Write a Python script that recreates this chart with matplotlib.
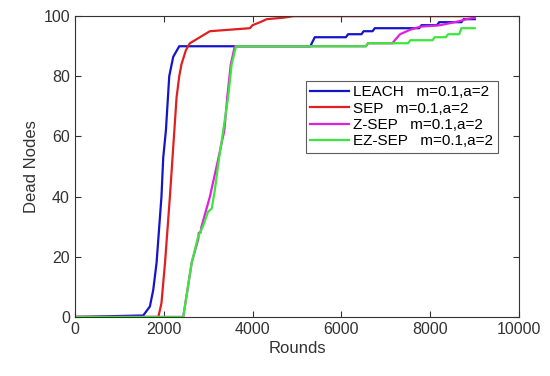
import numpy as np
import matplotlib.pyplot as plt

plt.rcParams['font.family'] = ['Liberation Sans', 'DejaVu Sans']

# LEACH m=0.1,a=2
leach_x = [0, 1540, 1690, 1765, 1840, 1950, 1990, 2050, 2125, 2180, 2215, 2350, 5300, 5400,
           6100, 6150, 6450, 6500, 6700, 6750, 7750, 7800, 8150, 8200, 8700, 8750, 9000]
leach_y = [0, 0.5, 3.5, 9, 18, 40, 53, 62, 80, 84, 86.5, 90, 90, 93,
           93, 94, 94, 95, 95, 96, 96, 97, 97, 98, 98, 99, 99]

# SEP m=0.1,a=2
sep_x = [0, 1880, 1950, 2030, 2140, 2240, 2290, 2350, 2400, 2500, 2590, 2815, 3040, 3940,
         4000, 4170, 4320, 4700, 4920, 9000]
sep_y = [0, 0, 4.6, 18, 40, 62, 73, 80, 84, 88.7, 91, 93, 95, 96,
         97, 98, 99, 99.5, 100, 100]

# Z-SEP m=0.1,a=2
zsep_x = [0, 2440, 2630, 2780, 2790, 2830, 2850, 3040, 3130, 3205, 3365, 3430, 3510, 3600,
          6550, 6600, 6700, 7150, 7200, 7320, 7550, 7770, 8230, 8670, 8810, 9000]
zsep_y = [0, 0, 18, 26, 28, 28, 30, 40, 46, 51, 62, 73, 84, 90,
          90, 91, 91, 91, 92, 94, 95.5, 96.5, 97, 98.4, 99, 99.5]

# EZ-SEP m=0.1,a=2
ezsep_x = [0, 2440, 2630, 2780, 2880, 3000, 3080, 3150, 3230, 3340, 3450, 3530, 3630,
           6550, 6600, 7500, 7550, 8050, 8100, 8350, 8400, 8650, 8700, 9000]
ezsep_y = [0, 0, 18, 27, 30, 35, 36, 42, 51, 62, 73, 84, 90,
           90, 91, 91, 92, 92, 93, 93, 94, 94, 96, 96]

fig = plt.figure(figsize=(5.5, 3.76), dpi=100)
ax = fig.add_axes([0.136, 0.157, 0.808, 0.8])

ax.plot(leach_x, leach_y, color='#1414c8', lw=1.6, label='LEACH   m=0.1,a=2')
ax.plot(sep_x, sep_y, color='#e02020', lw=1.6, label='SEP   m=0.1,a=2')
ax.plot(zsep_x, zsep_y, color='#e020e0', lw=1.6, label='Z-SEP   m=0.1,a=2')
ax.plot(ezsep_x, ezsep_y, color='#3ce63c', lw=1.6, label='EZ-SEP   m=0.1,a=2')

ax.set_xlim(0, 10000)
ax.set_ylim(0, 100)
ax.set_xticks([0, 2000, 4000, 6000, 8000, 10000])
ax.set_yticks([0, 20, 40, 60, 80, 100])
ax.tick_params(direction='in', top=True, right=True, labelsize=11.5,
               colors='#333333', length=4)
for s in ax.spines.values():
    s.set_color('#333333')
ax.set_xlabel('Rounds', fontsize=12, color='#333333', labelpad=3)
ax.set_ylabel('Dead Nodes', fontsize=12, color='#333333', labelpad=3)

leg = ax.legend(loc='upper left', bbox_to_anchor=(0.52, 0.785), fontsize=11,
                frameon=True, fancybox=False, edgecolor='#333333',
                handlelength=2.5, handletextpad=0.3, borderpad=0.3,
                labelspacing=0.15, borderaxespad=0)
leg.get_frame().set_linewidth(0.8)

fig.savefig('out.png', dpi=100)
